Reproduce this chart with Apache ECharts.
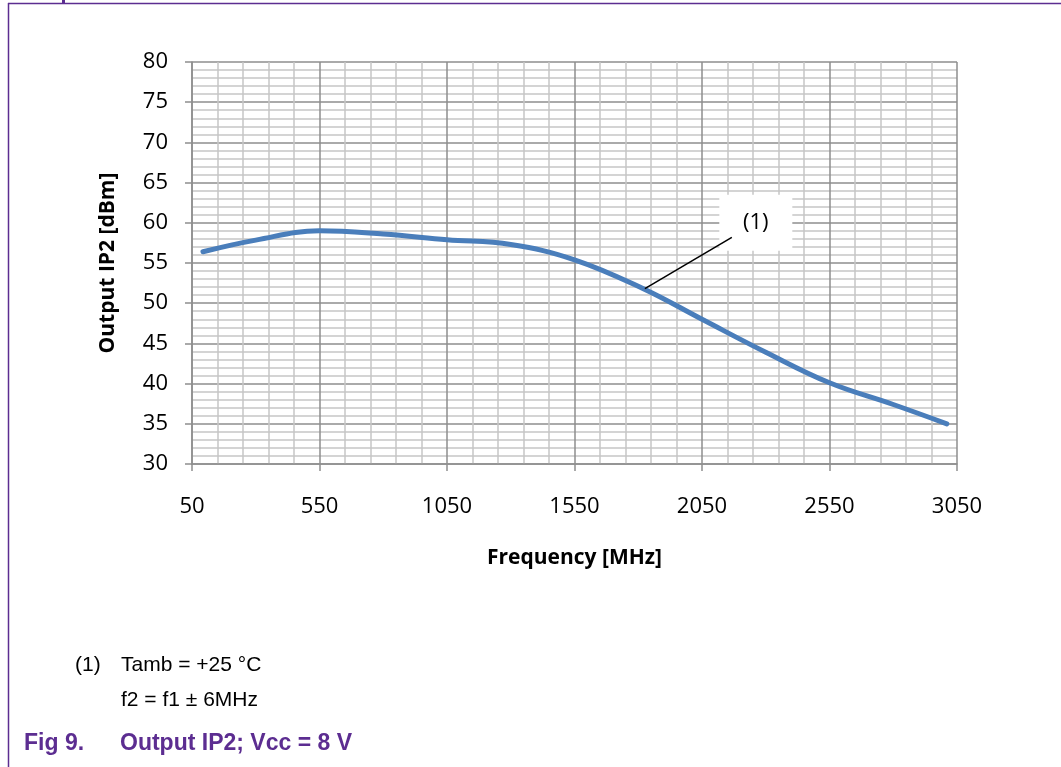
<!DOCTYPE html>
<html>
<head>
<meta charset="utf-8">
<script src="https://cdn.jsdelivr.net/npm/echarts@6/dist/echarts.min.js"></script>
<style>
  html, body { margin: 0; padding: 0; background: #fff; }
  #chart { width: 1061px; height: 767px; }
</style>
</head>
<body>
<div id="chart"></div>
<script>
// Output IP2 vs frequency (Vcc = 8 V, Tamb = +25 °C)
const frequencies = [93, 300, 550, 800, 1050, 1300, 1550, 1820, 2050, 2300, 2550, 2800, 3010];
const ip2Values = [56.4, 57.85, 59.0, 58.6, 57.9, 57.3, 55.4, 51.8, 48.0, 43.9, 40.1, 37.4, 35.0];

// annotation "(1)": leader from curve to label box
const noteFrom = [1826, 51.8];
const noteTo = [2167, 58.2];
const noteBox = [2261, 60.0];

const PURPLE = "#5c2d91";
const MAJOR = "#8e8e8e";
const MINOR = "#c6c6c6";

const chart = echarts.init(document.getElementById("chart"));

chart.setOption({
  animation: false,
  grid: { left: 192, right: 104, top: 62, bottom: 303 },
  xAxis: {
    type: "value",
    min: 50,
    max: 3050,
    interval: 500,
    name: "Frequency [MHz]",
    nameLocation: "middle",
    nameGap: 84,
    nameTextStyle: { fontFamily: "Open Sans", fontWeight: "bold", fontSize: 21, color: "#000" },
    axisLine: { show: true, lineStyle: { color: MAJOR, width: 1.5 } },
    axisTick: { show: true, length: 7, lineStyle: { color: MAJOR, width: 1.5 } },
    axisLabel: { margin: 32, fontFamily: "Open Sans", fontSize: 22, color: "#000", formatter: (v) => String(v) },
    splitLine: { show: true, lineStyle: { color: MAJOR, width: 1.5 } },
    minorTick: { show: false, splitNumber: 5 },
    minorSplitLine: { show: true, lineStyle: { color: MINOR, width: 1.5 } },
  },
  yAxis: {
    type: "value",
    min: 30,
    max: 80,
    interval: 5,
    name: "Output IP2 [dBm]",
    nameLocation: "middle",
    nameGap: 73,
    nameRotate: 90,
    nameTextStyle: { fontFamily: "Open Sans", fontWeight: "bold", fontSize: 21, color: "#000" },
    axisLine: { show: true, lineStyle: { color: MAJOR, width: 1.5 } },
    axisTick: { show: true, length: 7, lineStyle: { color: MAJOR, width: 1.5 } },
    axisLabel: { margin: 24, fontFamily: "Open Sans", fontSize: 22, color: "#000" },
    splitLine: { show: true, lineStyle: { color: MAJOR, width: 1.5 } },
    minorTick: { show: false, splitNumber: 5 },
    minorSplitLine: { show: true, lineStyle: { color: MINOR, width: 1.5 } },
  },
  series: [
    {
      type: "line",
      data: frequencies.map((f, i) => [f, ip2Values[i]]),
      smooth: 0.4,
      showSymbol: false,
      lineStyle: { color: "#4a7ebb", width: 5, cap: "round" },
      z: 3,
      markPoint: {
        silent: true,
        z: 4,
        symbol: "rect",
        symbolSize: [73, 56],
        itemStyle: { color: "#fff" },
        label: { show: true, position: "inside", formatter: "(1)", fontFamily: "Open Sans", fontSize: 22, color: "#000" },
        data: [{ coord: noteBox }],
      },
      markLine: {
        silent: true,
        z: 6,
        symbol: ["none", "none"],
        label: { show: false },
        lineStyle: { color: "#000", width: 1.5, type: "solid" },
        data: [[{ coord: noteFrom }, { coord: noteTo }]],
      },
    },
  ],
  graphic: [
    { type: "line", shape: { x1: 8.5, y1: 3, x2: 8.5, y2: 767 }, style: { stroke: PURPLE, lineWidth: 1.5 } },
    { type: "line", shape: { x1: 8, y1: 3.5, x2: 1061, y2: 3.5 }, style: { stroke: PURPLE, lineWidth: 1.5 } },
    { type: "rect", shape: { x: 62, y: 0, width: 3, height: 4 }, style: { fill: PURPLE } },
    {
      type: "text", left: 75, top: 655,
      style: { text: "(1)", font: "21px 'Liberation Sans'", fill: "#000" },
    },
    {
      type: "text", left: 121, top: 655,
      style: { text: "Tamb = +25 °C", font: "21px 'Liberation Sans'", fill: "#000" },
    },
    {
      type: "text", left: 121, top: 690,
      style: { text: "f2 = f1 ± 6MHz", font: "21px 'Liberation Sans'", fill: "#000" },
    },
    {
      type: "text", left: 24, top: 732,
      style: { text: "Fig 9.", font: "bold 23px 'Liberation Sans'", fill: PURPLE },
    },
    {
      type: "text", left: 120, top: 732,
      style: { text: "Output IP2; Vcc = 8 V", font: "bold 23px 'Liberation Sans'", fill: PURPLE },
    },
  ],
});
</script>
</body>
</html>
